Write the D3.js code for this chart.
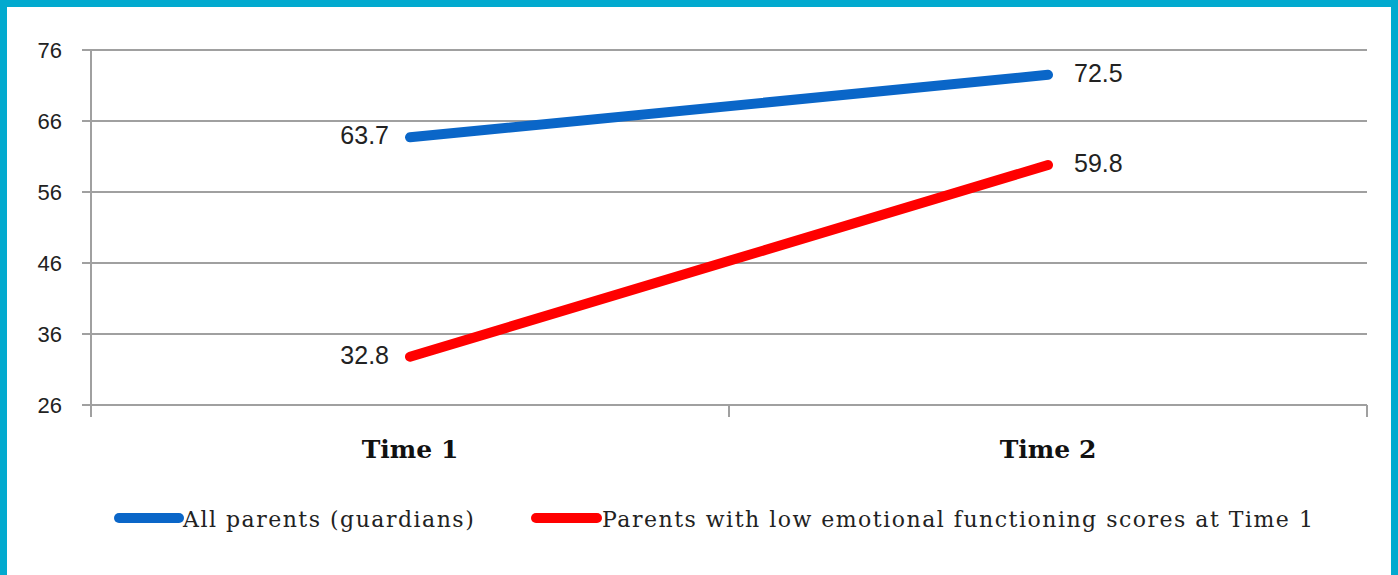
<!DOCTYPE html>
<html>
<head>
<meta charset="utf-8">
<script src="https://cdn.jsdelivr.net/npm/d3@7"></script>
<style>
  html, body { margin: 0; padding: 0; background: #fff; }
  svg { display: block; }
</style>
</head>
<body>
<svg id="chart" width="1398" height="575"></svg>
<script>
// Emotional functioning scores, measured at two time points
const categories = ["Time 1", "Time 2"];
const seriesNames = ["All parents (guardians)", "Parents with low emotional functioning scores at Time 1"];
const allParents = [63.7, 72.5];
const lowScoreParents = [32.8, 59.8];
const yTicks = [26, 36, 46, 56, 66, 76];
const colors = ["#0A66C8", "#FF0000"];

const svg = d3.select("#chart");
const W = 1398, H = 575;

// frame
svg.append("rect").attr("x", 0).attr("y", 0).attr("width", W).attr("height", H).attr("fill", "#02AACF");
svg.append("rect").attr("x", 7).attr("y", 7).attr("width", 1384).attr("height", H - 7).attr("fill", "#fff");

const plot = { left: 91, right: 1367, top: 50, bottom: 405 };

const x = d3.scaleBand().domain(categories).range([plot.left, plot.right]);
const y = d3.scaleLinear().domain([26, 76]).range([plot.bottom, plot.top]);

const gridColor = "#A0A0A0";
const numFont = "'Liberation Sans Narrow', 'Liberation Sans', sans-serif";
const textFont = "'DejaVu Serif', serif";

// horizontal gridlines
svg.append("g").selectAll("line").data(yTicks).join("line")
  .attr("x1", plot.left - 9).attr("x2", plot.right)
  .attr("y1", d => y(d)).attr("y2", d => y(d))
  .attr("stroke", gridColor).attr("stroke-width", 2);

// y axis line
svg.append("line").attr("x1", plot.left).attr("x2", plot.left).attr("y1", plot.top).attr("y2", plot.bottom + 12)
  .attr("stroke", gridColor).attr("stroke-width", 2);

// x axis category boundary ticks
const bounds = [plot.left, ...categories.slice(1).map(c => x(c)), plot.right];
svg.append("g").selectAll("line").data(bounds).join("line")
  .attr("x1", d => d).attr("x2", d => d)
  .attr("y1", plot.bottom).attr("y2", plot.bottom + 12)
  .attr("stroke", gridColor).attr("stroke-width", 2);

// y tick labels
svg.append("g").selectAll("text").data(yTicks).join("text")
  .attr("x", 62).attr("y", d => y(d))
  .attr("text-anchor", "end").attr("dominant-baseline", "central")
  .attr("font-family", numFont)
  .attr("font-size", 22).attr("fill", "#222")
  .text(d => d);

// category labels
svg.append("g").selectAll("text").data(categories).join("text")
  .attr("x", d => x(d) + x.bandwidth() / 2).attr("y", 458)
  .attr("text-anchor", "middle")
  .attr("font-family", textFont).attr("font-weight", "bold")
  .attr("font-size", 25).attr("fill", "#111")
  .text(d => d);

// series lines
const series = [allParents, lowScoreParents];
const line = d3.line()
  .x((d, i) => x(categories[i]) + x.bandwidth() / 2)
  .y(d => y(d));

series.forEach((vals, s) => {
  svg.append("path").datum(vals)
    .attr("d", line)
    .attr("fill", "none").attr("stroke", colors[s])
    .attr("stroke-width", 10).attr("stroke-linecap", "round");

  // data labels: left of first point, right of last point
  svg.append("g").selectAll("text").data(vals).join("text")
    .attr("x", (d, i) => x(categories[i]) + x.bandwidth() / 2 + (i === 0 ? -21 : 26))
    .attr("y", d => y(d) - 2)
    .attr("text-anchor", (d, i) => i === 0 ? "end" : "start")
    .attr("dominant-baseline", "central")
    .attr("font-family", numFont)
    .attr("font-size", 25).attr("fill", "#222")
    .text(d => d.toFixed(1));
});

// legend
const legendItems = [
  { name: seriesNames[0], color: colors[0], x1: 119, x2: 179, tx: 183 },
  { name: seriesNames[1], color: colors[1], x1: 536, x2: 597, tx: 602 }
];
const lg = svg.append("g");
legendItems.forEach(it => {
  lg.append("line").attr("x1", it.x1).attr("x2", it.x2).attr("y1", 518).attr("y2", 518)
    .attr("stroke", it.color).attr("stroke-width", 10).attr("stroke-linecap", "round");
  lg.append("text").attr("x", it.tx).attr("y", 519)
    .attr("dominant-baseline", "central")
    .attr("font-family", textFont)
    .attr("font-size", 22).attr("letter-spacing", 1.5).attr("fill", "#222")
    .text(it.name);
});
</script>
</body>
</html>
